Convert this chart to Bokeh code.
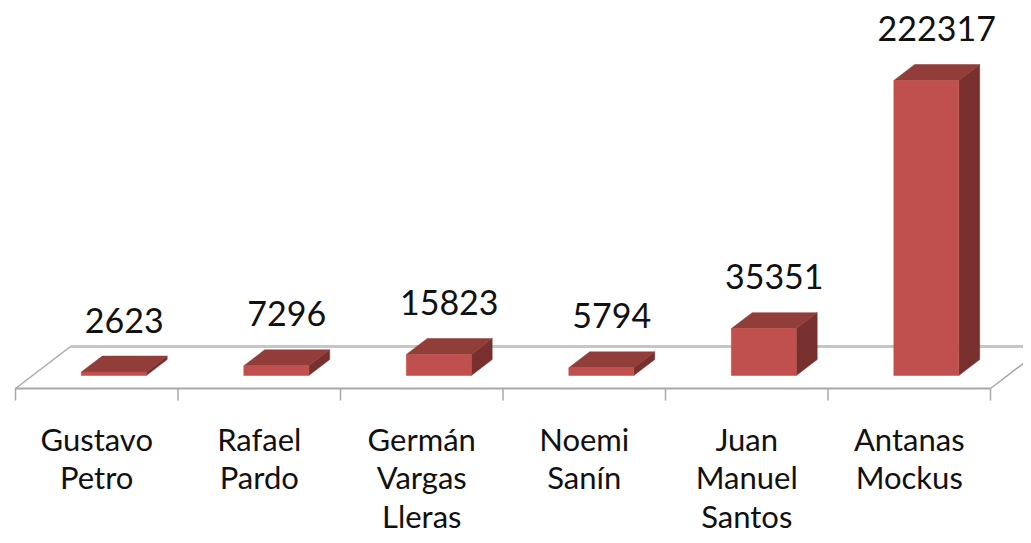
from bokeh.plotting import figure
from bokeh.models import Range1d
from bokeh.core.properties import value
from bokeh.embed import file_html
from bokeh.resources import INLINE

# ---- data ----
candidates = ["Gustavo\nPetro", "Rafael\nPardo", "Germán\nVargas\nLleras",
              "Noemi\nSanín", "Juan\nManuel\nSantos", "Antanas\nMockus"]
votes = [2623, 7296, 15823, 5794, 35351, 222317]

# ---- layout / style constants ----
W, H = 1023, 535
PX_X = 162.5          # pixels per category
PX_V = 753.6          # value units per pixel
DXC = 55 / PX_X       # depth shift in x (category units)
DYV = 42 * PX_V       # depth shift in y (value units)
D0, D1 = 0.31, 0.69   # bar front / back depth fraction
BAR_L, BAR_R = 0.3, 0.7
BASE_FIX = 13         # px correction for alphabetic baseline

FRONT = "#c0504d"
TOP = "#913d3a"
SIDE = "#78302e"

x0 = -15 / PX_X
y1 = 375 * PX_V
p = figure(width=W, height=H,
           x_range=Range1d(x0, x0 + W / PX_X),
           y_range=Range1d(y1 - H * PX_V, y1),
           output_backend="svg", toolbar_location=None, min_border=0)
p.axis.visible = False
p.grid.visible = False
p.outline_line_color = None
p.background_fill_color = "white"
p.border_fill_color = "white"


def pt(x, v, d):
    return (x + d * DXC, v + (d - D0) * DYV)


n = len(votes)

# floor
corners = [pt(0, 0, 0), pt(n, 0, 0), pt(n, 0, 1), pt(0, 0, 1)]
p.patch([c[0] for c in corners], [c[1] for c in corners],
        fill_color="white", line_color=None)
a, b = pt(0, 0, 1), pt(n, 0, 1)
p.line([a[0], b[0]], [a[1], b[1]], line_color="#c6c6c6", line_width=3)
for xs in (0, n):
    a, b = pt(xs, 0, 0), pt(xs, 0, 1)
    p.line([a[0], b[0]], [a[1], b[1]], line_color="#a8a8a8", line_width=1.5)
a, b = pt(0, 0, 0), pt(n, 0, 0)
p.line([a[0], b[0]], [a[1], b[1]], line_color="#a8a8a8", line_width=2)

# ticks
fy = pt(0, 0, 0)[1]
p.segment(x0=list(range(n + 1)), y0=[fy] * (n + 1),
          x1=list(range(n + 1)), y1=[fy - 12 * PX_V] * (n + 1),
          line_color="#a8a8a8", line_width=1.5)

# bars
fronts_x, fronts_y, tops_x, tops_y, sides_x, sides_y = [], [], [], [], [], []
for i, v in enumerate(votes):
    L, R = i + BAR_L, i + BAR_R
    f = [pt(L, 0, D0), pt(R, 0, D0), pt(R, v, D0), pt(L, v, D0)]
    t = [pt(L, v, D0), pt(R, v, D0), pt(R, v, D1), pt(L, v, D1)]
    s = [pt(R, 0, D0), pt(R, 0, D1), pt(R, v, D1), pt(R, v, D0)]
    fronts_x.append([c[0] for c in f]); fronts_y.append([c[1] for c in f])
    tops_x.append([c[0] for c in t]); tops_y.append([c[1] for c in t])
    sides_x.append([c[0] for c in s]); sides_y.append([c[1] for c in s])

p.patches(sides_x, sides_y, fill_color=SIDE, line_color=SIDE, line_width=0.5)
p.patches(tops_x, tops_y, fill_color=TOP, line_color=TOP, line_width=0.5)
p.patches(fronts_x, fronts_y, fill_color=FRONT, line_color=FRONT, line_width=0.5)

# value labels
lx = [pt(i + 0.5, v, 0.5)[0] for i, v in enumerate(votes)]
ly = [pt(i + 0.5, v, D1)[1] + (23 + BASE_FIX) * PX_V for i, v in enumerate(votes)]
p.text(lx, ly, text=[str(v) for v in votes], text_align="center",
       text_baseline="alphabetic", text_font=value("Lato"),
       text_font_size=value("34px"), text_color="#111111")

# category labels
cx, cy, ct = [], [], []
for i, name in enumerate(candidates):
    for k, line in enumerate(name.split("\n")):
        cx.append(i + 0.5)
        cy.append((375 - (451 + 38.5 * k) + BASE_FIX) * PX_V)
        ct.append(line)
p.text(cx, cy, text=ct, text_align="center", text_baseline="alphabetic",
       text_font=value("Lato"), text_font_size=value("31px"),
       text_color="#111111")

open("out.html", "w").write(file_html(p, INLINE))
